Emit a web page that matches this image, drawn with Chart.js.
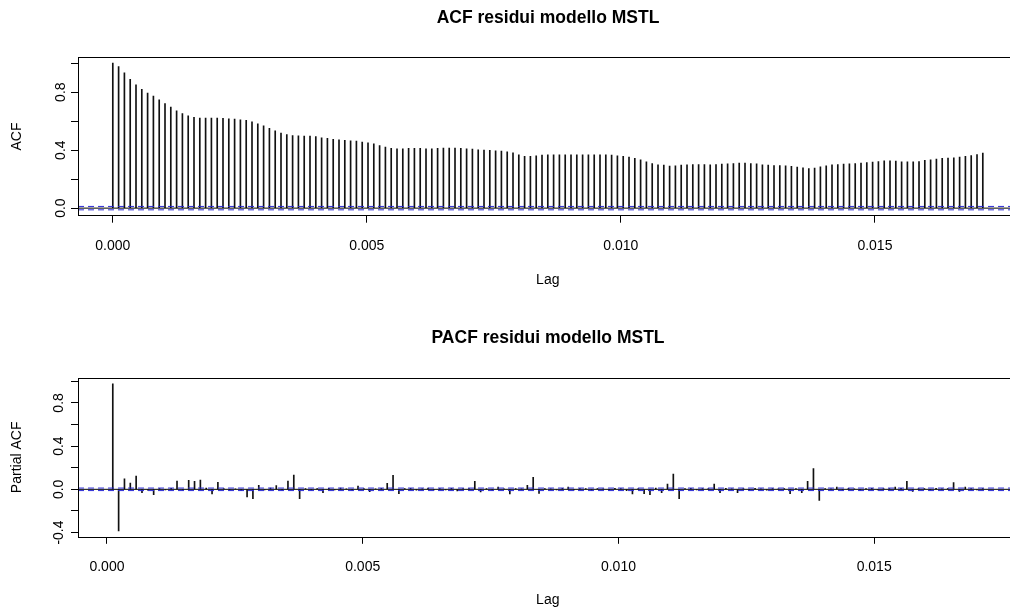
<!DOCTYPE html>
<html>
<head>
<meta charset="utf-8">
<script src="https://cdn.jsdelivr.net/npm/chart.js@4.4.1/dist/chart.umd.min.js"></script>
<style>
html, body { margin: 0; padding: 0; background: #fff; overflow: hidden; width: 1010px; height: 608px; }
.panel { position: absolute; left: 0; width: 1096px; height: 320px; }
</style>
</head>
<body>
<div class="panel" style="top:0"><canvas id="chart-acf" width="1096" height="320"></canvas></div>
<div class="panel" style="top:320px"><canvas id="chart-pacf" width="1096" height="320"></canvas></div>
<script>
// hourly series, lag axis in years
var freq = 8760;

// ACF, lags 0..150
var acfValues = [
    1.000, 0.977, 0.934, 0.888, 0.851, 0.819, 0.793, 0.773, 0.747, 0.722,
    0.697, 0.672, 0.653, 0.637, 0.626, 0.621, 0.621, 0.621, 0.621, 0.619,
    0.616, 0.614, 0.609, 0.605, 0.596, 0.582, 0.568, 0.550, 0.534, 0.517,
    0.508, 0.501, 0.499, 0.497, 0.497, 0.494, 0.485, 0.481, 0.474, 0.472,
    0.467, 0.465, 0.462, 0.455, 0.451, 0.444, 0.432, 0.421, 0.412, 0.409,
    0.409, 0.412, 0.412, 0.412, 0.409, 0.409, 0.412, 0.414, 0.414, 0.414,
    0.412, 0.409, 0.407, 0.403, 0.400, 0.398, 0.396, 0.393, 0.389, 0.382,
    0.368, 0.357, 0.357, 0.361, 0.366, 0.368, 0.368, 0.368, 0.368, 0.368,
    0.368, 0.368, 0.368, 0.368, 0.368, 0.368, 0.366, 0.361, 0.357, 0.352,
    0.343, 0.334, 0.320, 0.308, 0.299, 0.297, 0.290, 0.292, 0.297, 0.299,
    0.301, 0.301, 0.301, 0.299, 0.301, 0.304, 0.306, 0.308, 0.311, 0.311,
    0.308, 0.306, 0.299, 0.297, 0.294, 0.294, 0.292, 0.288, 0.283, 0.278,
    0.272, 0.276, 0.285, 0.292, 0.299, 0.301, 0.304, 0.306, 0.308, 0.311,
    0.315, 0.317, 0.322, 0.327, 0.327, 0.324, 0.320, 0.320, 0.320, 0.322,
    0.329, 0.334, 0.338, 0.343, 0.345, 0.347, 0.352, 0.357, 0.363, 0.370,
    0.380
];

// PACF, lags 1..150
var pacfValues = [
    0.977, -0.385, 0.098, 0.058, 0.123, -0.031, -0.008, -0.049, 0.006, -0.004,
    0.010, 0.077, -0.006, 0.083, 0.074, 0.086, 0.012, -0.043, 0.065, 0.008,
    -0.005, 0.004, -0.010, -0.071, -0.086, 0.037, -0.004, 0.012, 0.034, -0.006,
    0.077, 0.132, -0.086, 0.008, -0.004, 0.006, -0.030, 0.010, -0.006, 0.012,
    0.005, -0.008, 0.030, 0.006, -0.022, 0.004, 0.010, 0.055, 0.129, -0.040,
    0.006, 0.010, -0.008, 0.004, 0.012, -0.006, 0.008, -0.004, 0.010, -0.014,
    0.006, 0.008, 0.074, -0.025, 0.006, -0.008, 0.020, 0.004, -0.043, 0.008,
    0.005, 0.037, 0.111, -0.037, 0.006, 0.004, -0.006, 0.010, 0.020, -0.004,
    0.006, 0.008, -0.010, 0.006, 0.004, -0.008, 0.010, 0.006, -0.012, -0.043,
    0.008, -0.040, -0.049, 0.012, -0.030, 0.049, 0.142, -0.086, 0.006, 0.010,
    -0.004, 0.008, 0.006, 0.049, -0.030, 0.010, 0.004, -0.030, 0.008, -0.006,
    0.010, 0.004, -0.008, 0.006, 0.004, 0.008, -0.040, 0.006, -0.030, 0.074,
    0.191, -0.102, 0.008, 0.004, 0.020, -0.006, 0.010, 0.004, -0.008, 0.006,
    0.010, -0.004, 0.008, 0.006, 0.020, 0.010, 0.074, -0.020, 0.008, 0.006,
    -0.006, 0.010, 0.004, 0.008, 0.062, -0.020, 0.020, 0.006, -0.004, 0.008
];

var clim = 0.0117;

var xTickValues = [0, 0.005, 0.010, 0.015];
var xTickLabels = ['0.000', '0.005', '0.010', '0.015'];

var acfYTicks = [0, 0.2, 0.4, 0.6, 0.8, 1.0];
var acfYLabels = ['0.0', '', '0.4', '', '0.8', ''];
var pacfYTicks = [-0.4, -0.2, 0, 0.2, 0.4, 0.6, 0.8, 1.0];
var pacfYLabels = ['-0.4', '', '0.0', '', '0.4', '', '0.8', ''];

var acfXRange = [-0.000685, 0.017808];
var acfYRange = [-0.0522, 1.0405];
var pacfXRange = [-0.000566, 0.017804];
var pacfYRange = [-0.4395, 1.0315];

var FONT = "'Liberation Sans', Arial, Helvetica, sans-serif";

var boxPlugin = {
    id: 'box',
    afterDraw: function (chart) {
        var a = chart.chartArea;
        var c = chart.ctx;
        c.save();
        c.strokeStyle = '#000';
        c.lineWidth = 1;
        c.strokeRect(Math.round(a.left) + 0.5, Math.round(a.top) + 0.5,
            Math.round(a.right - a.left), Math.round(a.bottom - a.top));
        c.restore();
    }
};

function hline(y, range, color, dash) {
    return {
        type: 'line',
        data: [{x: range[0], y: y}, {x: range[1], y: y}],
        borderColor: color,
        borderWidth: 1,
        borderDash: dash,
        pointRadius: 0,
        fill: false
    };
}

function makePanel(id, titleText, yTitle, points, xRange, yRange, yTicks, yLabels, titleBottom, xAxisHeight) {
    var ctx = document.getElementById(id).getContext('2d');
    return new Chart(ctx, {
        type: 'bar',
        data: {
            datasets: [
                hline(clim, xRange, '#2a2ad6', [6, 4]),
                hline(-clim, xRange, '#2a2ad6', [6, 4]),
                hline(0, xRange, '#000', []),
                {
                    type: 'bar',
                    data: points,
                    backgroundColor: '#111',
                    borderWidth: 0,
                    barThickness: 1
                }
            ]
        },
        options: {
            responsive: false,
            animation: false,
            devicePixelRatio: 1,
            plugins: {
                legend: {display: false},
                tooltip: {enabled: false},
                title: {
                    display: true,
                    text: titleText,
                    color: '#000',
                    font: {family: FONT, size: 17.5, weight: 'bold'},
                    padding: {top: 7.5, bottom: titleBottom}
                }
            },
            scales: {
                x: {
                    type: 'linear',
                    min: xRange[0],
                    max: xRange[1],
                    offset: false,
                    grid: {offset: false, drawOnChartArea: false, drawTicks: true, tickLength: 7, color: '#000'},
                    border: {display: false},
                    afterBuildTicks: function (s) {
                        s.ticks = xTickValues.map(function (v) { return {value: v}; });
                    },
                    afterFit: function (s) { s.height = xAxisHeight; },
                    ticks: {
                        autoSkip: false,
                        maxRotation: 0,
                        padding: 15,
                        color: '#000',
                        font: {family: FONT, size: 14},
                        callback: function (v, i) { return xTickLabels[i]; }
                    },
                    title: {
                        display: true,
                        text: 'Lag',
                        color: '#000',
                        font: {family: FONT, size: 14},
                        padding: {top: 0, bottom: 31.6}
                    }
                },
                y: {
                    type: 'linear',
                    position: 'left',
                    min: yRange[0],
                    max: yRange[1],
                    grid: {drawOnChartArea: false, drawTicks: true, tickLength: 7, color: '#000'},
                    border: {display: false},
                    afterBuildTicks: function (s) {
                        s.ticks = yTicks.map(function (v) { return {value: v}; });
                    },
                    afterFit: function (s) { s.width = 78; },
                    ticks: {
                        autoSkip: false,
                        minRotation: 90,
                        maxRotation: 90,
                        crossAlign: 'center',
                        padding: 0,
                        color: '#000',
                        font: {family: FONT, size: 14},
                        callback: function (v, i) { return yLabels[i]; }
                    },
                    title: {
                        display: true,
                        text: yTitle,
                        color: '#000',
                        font: {family: FONT, size: 14},
                        padding: {top: 8.6, bottom: 0}
                    }
                },
                // empty right margin so the plot extends past the window edge
                yRight: {
                    type: 'linear',
                    position: 'right',
                    display: true,
                    grid: {display: false},
                    border: {display: false},
                    ticks: {display: false},
                    afterFit: function (s) { s.width = 78.4; }
                }
            }
        },
        plugins: [boxPlugin]
    });
}

window.onload = function () {
    var acfPoints = acfValues.map(function (v, k) { return {x: k / freq, y: v}; });
    var pacfPoints = pacfValues.map(function (v, k) { return {x: (k + 1) / freq, y: v}; });
    window.acfChart = makePanel('chart-acf', 'ACF residui modello MSTL', 'ACF',
        acfPoints, acfXRange, acfYRange, acfYTicks, acfYLabels, 28.8, 104.3);
    window.pacfChart = makePanel('chart-pacf', 'PACF residui modello MSTL', 'Partial ACF',
        pacfPoints, pacfXRange, pacfYRange, pacfYTicks, pacfYLabels, 29.4, 103.2);
};
</script>
</body>
</html>
